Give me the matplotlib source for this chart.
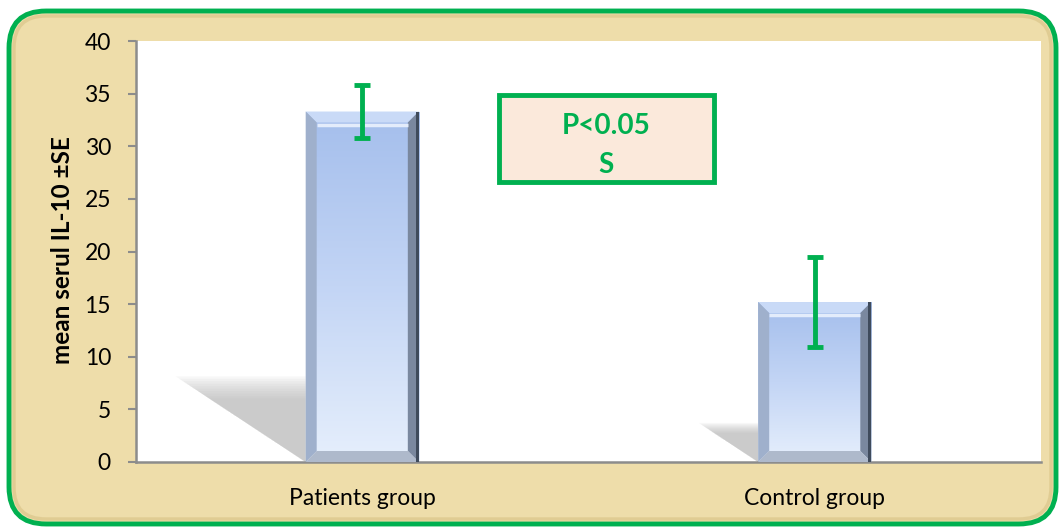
import numpy as np
import matplotlib
matplotlib.use("Agg")
import matplotlib.pyplot as plt
from matplotlib.patches import FancyBboxPatch, Rectangle, Polygon
from matplotlib.colors import LinearSegmentedColormap

plt.rcParams['font.family'] = ['Lato', 'DejaVu Sans']

# data
groups = ["Patients group", "Control group"]
means = [33.3, 15.2]
se = [2.55, 4.25]
y_ticks = [0, 5, 10, 15, 20, 25, 30, 35, 40]
y_label = "mean serul IL-10 \u00b1SE"
note_lines = ["P<0.05", "S"]

green = "#00B050"
beige = "#EEDDAA"

fig = plt.figure(figsize=(10.6, 5.27), dpi=100)
fig.patch.set_facecolor("white")

# rounded papyrus-like frame with green border
frame = FancyBboxPatch((9 / 1060, 3 / 527), 1047 / 1060, 513 / 527,
                       boxstyle="round,pad=0,rounding_size=0.035",
                       transform=fig.transFigure, facecolor=beige,
                       edgecolor=green, linewidth=3.5, mutation_aspect=2.0,
                       zorder=-10)
fig.patches.append(frame)
inner = FancyBboxPatch((14 / 1060, 8 / 527), 1037 / 1060, 503 / 527,
                       boxstyle="round,pad=0,rounding_size=0.03",
                       transform=fig.transFigure, facecolor="none",
                       edgecolor="#D8C285", linewidth=2.5, alpha=0.6,
                       mutation_aspect=2.0, zorder=-9)
fig.patches.append(inner)

ax = fig.add_axes([136 / 1060, 65 / 527, 905 / 1060, 421 / 527])
ax.set_facecolor("white")

x = np.arange(len(groups))
width = 0.25
ax.set_xlim(-0.5, 1.5)
ax.set_ylim(0, 40)

bar_cmap = LinearSegmentedColormap.from_list("bar", ["#A4BEEC", "#C3D5F5", "#E6EFFC"])
grad = np.linspace(0, 1, 256).reshape(-1, 1)

bx = 11 / 905 * 2.0       # bevel size in data x units
by = 11 / 421 * 40.0      # bevel size in data y units

for xi, m in zip(x, means):
    x0, x1 = xi - width / 2, xi + width / 2

    # soft shadow on the floor, behind the bar
    sh = 0.235 * m
    dx = 0.0083 * m
    for k in range(10):
        s = 1.04 - k * 0.03
        tri = Polygon([(x0, 0), (x0 - dx * s, sh * s), (x0, sh * s)],
                      closed=True, facecolor="#B0B0B0", edgecolor="none",
                      alpha=0.09, zorder=1)
        ax.add_patch(tri)

    # bar body with vertical gradient
    bar = Rectangle((x0, 0), width, m, facecolor="none", edgecolor="none", zorder=2)
    ax.add_patch(bar)
    im = ax.imshow(grad, cmap=bar_cmap, extent=[x0, x1, 0, m], aspect="auto",
                   zorder=2, origin="upper")
    im.set_clip_path(bar)

    # bevel edges
    top = Polygon([(x0, m), (x1, m), (x1 - bx, m - by), (x0 + bx, m - by)],
                  facecolor="#C9DAF7", edgecolor="none", zorder=3)
    left = Polygon([(x0, 0), (x0, m), (x0 + bx, m - by), (x0 + bx, by)],
                   facecolor="#9FB0CC", edgecolor="none", zorder=3)
    right = Polygon([(x1, 0), (x1, m), (x1 - bx, m - by), (x1 - bx, by)],
                    facecolor="#7A889F", edgecolor="none", zorder=3)
    bottom = Polygon([(x0, 0), (x1, 0), (x1 - bx, by), (x0 + bx, by)],
                     facecolor="#AEB9CB", edgecolor="none", zorder=3)
    for p in (top, left, right, bottom):
        ax.add_patch(p)
    ax.add_patch(Rectangle((x1 - bx * 0.3, 0), bx * 0.3, m, facecolor="#3F4B5C",
                           edgecolor="none", zorder=3))
    ax.plot([x0 + bx, x1 - bx], [m - by * 1.2, m - by * 1.2], color="#E3ECFB",
            lw=2.5, zorder=3, solid_capstyle="butt")

ax.errorbar(x, means, yerr=se, fmt="none", ecolor=green, elinewidth=3.5,
            capsize=5.5, capthick=3.5, zorder=5)

ax.set_xticks(x)
ax.set_xticklabels(groups, fontsize=16.5)
ax.set_yticks(y_ticks)
ax.tick_params(axis="y", length=6, width=1.5, color="#8C8C8C", pad=12, labelsize=16.5)
ax.tick_params(axis="x", length=0, pad=19)

for side in ("top", "right"):
    ax.spines[side].set_visible(False)
for side in ("left", "bottom"):
    ax.spines[side].set_color("#8C8C8C")
    ax.spines[side].set_linewidth(1.8)

fig.text(62 / 1060, (527 - 250) / 527, y_label, rotation=90, ha="center",
         va="center", fontsize=17.5, fontweight="bold")

# significance box
ax.add_patch(Rectangle((0.401, 0.665), 0.2377, 0.2067, transform=ax.transAxes,
                       facecolor="#FBE9DB", edgecolor=green, linewidth=3.5, zorder=6))
ax.text(0.519, 0.797, note_lines[0], transform=ax.transAxes, ha="center", va="center",
        color=green, fontsize=20, fontweight="bold", zorder=7)
ax.text(0.519, 0.705, note_lines[1], transform=ax.transAxes, ha="center", va="center",
        color=green, fontsize=20, fontweight="bold", zorder=7)

fig.savefig("out.png", dpi=100)
